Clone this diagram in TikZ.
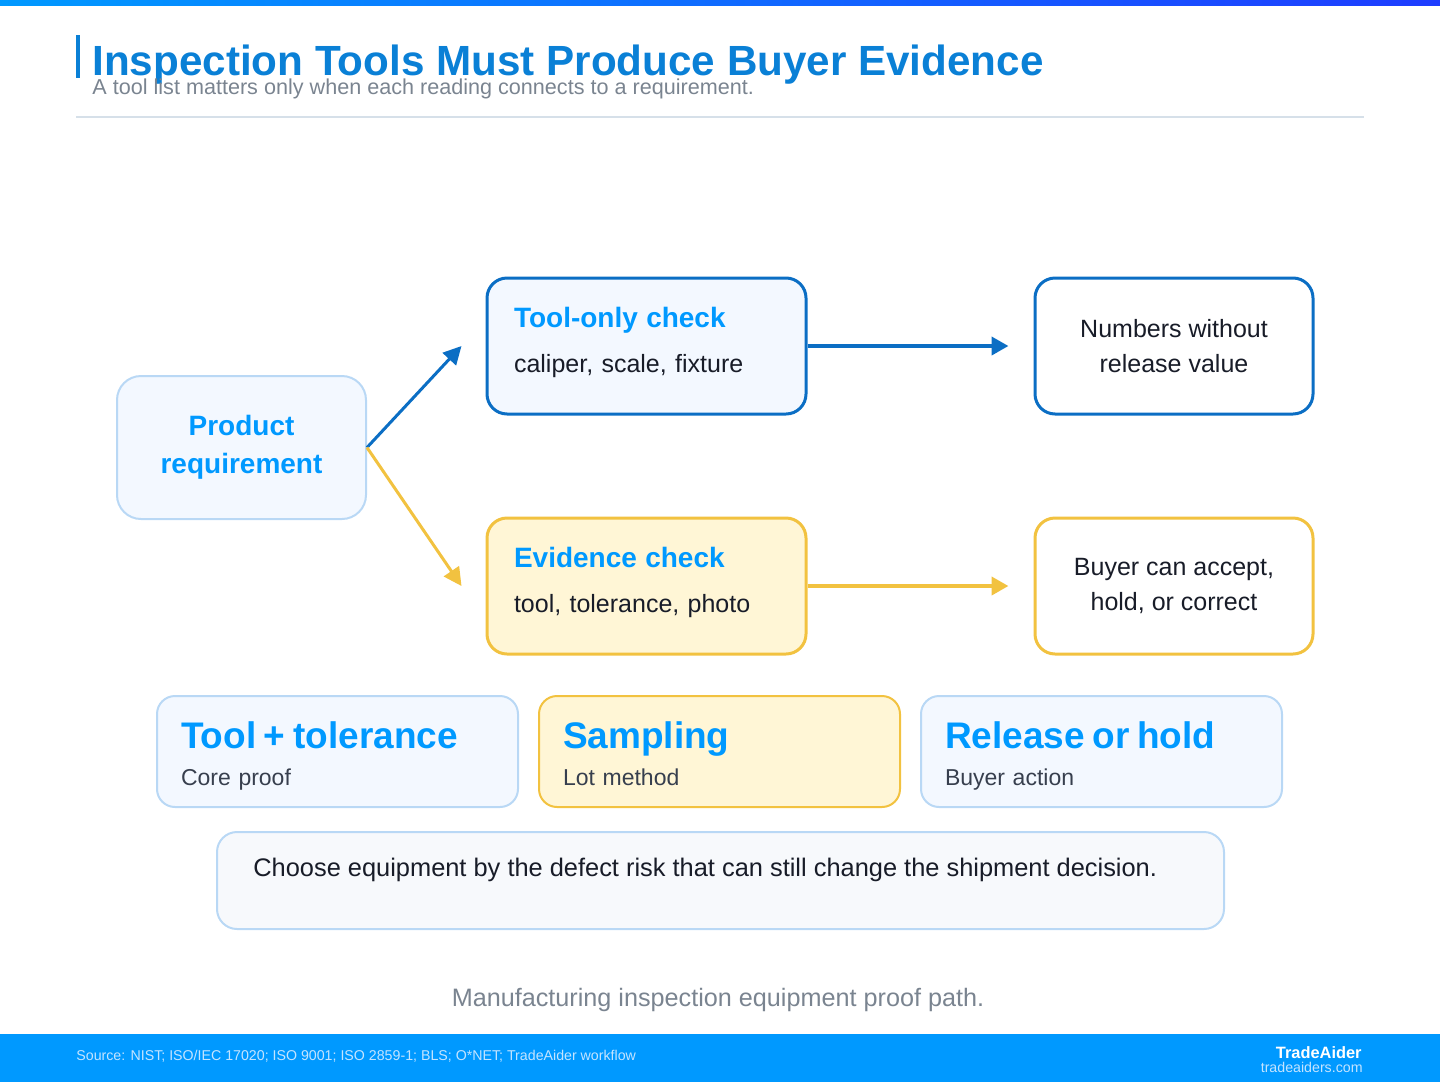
\documentclass[tikz,border=0pt]{standalone}
\usepackage{fontspec}
\setmainfont{Liberation Sans}
\definecolor{titleblue}{RGB}{10,128,214}
\definecolor{brightblue}{RGB}{0,153,255}
\definecolor{deepblue}{RGB}{11,110,196}
\definecolor{gold}{RGB}{242,194,64}
\definecolor{goldfill}{RGB}{255,246,214}
\definecolor{palefill}{RGB}{243,248,255}
\definecolor{paleline}{RGB}{185,216,245}
\definecolor{notefill}{RGB}{247,249,252}
\definecolor{inkdark}{RGB}{24,28,40}
\definecolor{inkslate}{RGB}{55,63,78}
\definecolor{mutegray}{RGB}{122,132,144}
\definecolor{rulegray}{RGB}{214,224,233}
\definecolor{foottext}{RGB}{196,228,255}
\usetikzlibrary{arrows.meta,positioning}
\tikzset{
  flowbox/.style={draw=deepblue,line width=1.5pt,rounded corners=10pt,fill=palefill,
              align=left,text width=132.5pt,inner xsep=13.5pt,minimum height=68pt,
              text=inkdark,font=\fontsize{12.5}{22.5}\selectfont},
  goldbox/.style={flowbox,draw=gold,fill=goldfill},
  outbox/.style={draw=deepblue,line width=1.5pt,rounded corners=10pt,fill=white,
              align=center,minimum width=139pt,minimum height=68pt,
              text=inkdark,font=\fontsize{12.5}{17.5}\selectfont},
  card/.style={draw=paleline,line width=1pt,rounded corners=9pt,fill=palefill,
              align=left,text width=156.5pt,inner xsep=12pt,minimum height=55.5pt,
              text=inkslate,font=\fontsize{11.5}{18.5}\selectfont},
  arr/.style={-{Triangle[length=8.5pt,width=9pt]},line width=2pt},
  slant/.style={-{Triangle[length=9pt,width=9pt]},line width=1.5pt},
}
\newcommand{\boxtitle}[1]{{\fontsize{14}{22.5}\selectfont\bfseries\color{brightblue}\rule{0pt}{11pt}#1}}
\newcommand{\boxsub}[1]{#1\rule[-7pt]{0pt}{7pt}}
\newcommand{\cardtitle}[1]{{\fontsize{18.5}{18.5}\selectfont\bfseries\color{brightblue}\rule{0pt}{18pt}#1}}
\newcommand{\cardsub}[1]{#1\rule[-3pt]{0pt}{3pt}}

\begin{document}
\begin{tikzpicture}[x=0.5pt,y=-0.5pt]
    \useasboundingbox (0,0) rectangle (1440,1082);
    % header
    \shade[left color=brightblue,right color={rgb,255:red,30;green,60;blue,255}] (0,0) rectangle (1440,5);
    \fill[titleblue] (76,35) rectangle (80,78);
    \node[anchor=base west,inner sep=0pt,text=titleblue,font=\fontsize{21.1}{24}\selectfont\bfseries]
      (title) at (92,75) {Inspection Tools Must Produce Buyer Evidence};
    \node[anchor=base west,inner sep=0pt,text=mutegray,font=\fontsize{10.8}{12}\selectfont]
      (subtitle) at (92,94) {A tool list matters only when each reading connects to a requirement.};
    \draw[rulegray,line width=0.75pt] (76,117) -- (1364,117);

    % flow
    \node[draw=paleline,line width=1pt,rounded corners=12pt,fill=palefill,align=center,
          minimum width=124.5pt,minimum height=71.5pt,text=brightblue,
          font=\fontsize{14}{19}\selectfont\bfseries] (product) at (241.5,447.5) {Product\\requirement};
    \node[flowbox] (toolchk) at (646.5,346) {\boxtitle{Tool-only check}\\\boxsub{caliper, scale, fixture}};
    \node[goldbox,below=50.5pt of toolchk] (evidchk) {\boxtitle{Evidence check}\\\boxsub{tool, tolerance, photo}};
    \node[outbox,right=113pt of toolchk] (numbers) {Numbers without\\release value};
    \node[outbox,draw=gold,right=113pt of evidchk] (buyer) {Buyer can accept,\\hold, or correct};
    \coordinate (inA) at ([xshift=-12pt]toolchk.west);
    \coordinate (inB) at ([xshift=-12pt]evidchk.west);
    \draw[slant,deepblue] (product.east) -- (inA);
    \draw[slant,gold] (product.east) -- (inB);
    \draw[arr,deepblue,shorten >=12.5pt] (toolchk) -- (numbers);
    \draw[arr,gold,shorten >=12.5pt] (evidchk) -- (buyer);

    % cards
    \node[card] (cardtool) at (337.5,751.5) {\cardtitle{Tool + tolerance}\\\cardsub{Core proof}};
    \node[card,draw=gold,fill=goldfill,right=9.5pt of cardtool] (cardsamp) {\cardtitle{Sampling}\\\cardsub{Lot method}};
    \node[card,right=9.5pt of cardsamp] (cardrel) {\cardtitle{Release or hold}\\\cardsub{Buyer action}};
    \node[draw=paleline,line width=1pt,rounded corners=10pt,fill=notefill,
          minimum width=503.5pt,minimum height=48.5pt] (note) at (720.5,880.5) {};
    \node[anchor=base west,inner sep=0pt,text=inkdark,font=\fontsize{12.7}{14}\selectfont]
      (notetxt) at ([xshift=18.5pt,yshift=-22.5pt]note.north west)
      {Choose equipment by the defect risk that can still change the shipment decision.};
    \node[anchor=base,inner sep=0pt,text=mutegray,font=\fontsize{12.6}{14}\selectfont]
      (caption) at (718,1006) {Manufacturing inspection equipment proof path.};

    % footer
    \fill[brightblue] (0,1034) rectangle (1440,1082);
    \node[anchor=base west,inner sep=0pt,text=foottext,font=\fontsize{7.1}{8}\selectfont]
      (source) at (76,1060) {Source: NIST; ISO/IEC 17020; ISO 9001; ISO 2859-1; BLS; O*NET; TradeAider workflow};
    \node[anchor=base east,inner sep=0pt,text=white,font=\fontsize{8.2}{9}\selectfont\bfseries]
      (brand) at (1362,1058) {TradeAider};
    \node[anchor=base east,inner sep=0pt,text=foottext,font=\fontsize{7.1}{8}\selectfont]
      (site) at (1363,1072) {tradeaiders.com};
  \end{tikzpicture}
\end{document}
